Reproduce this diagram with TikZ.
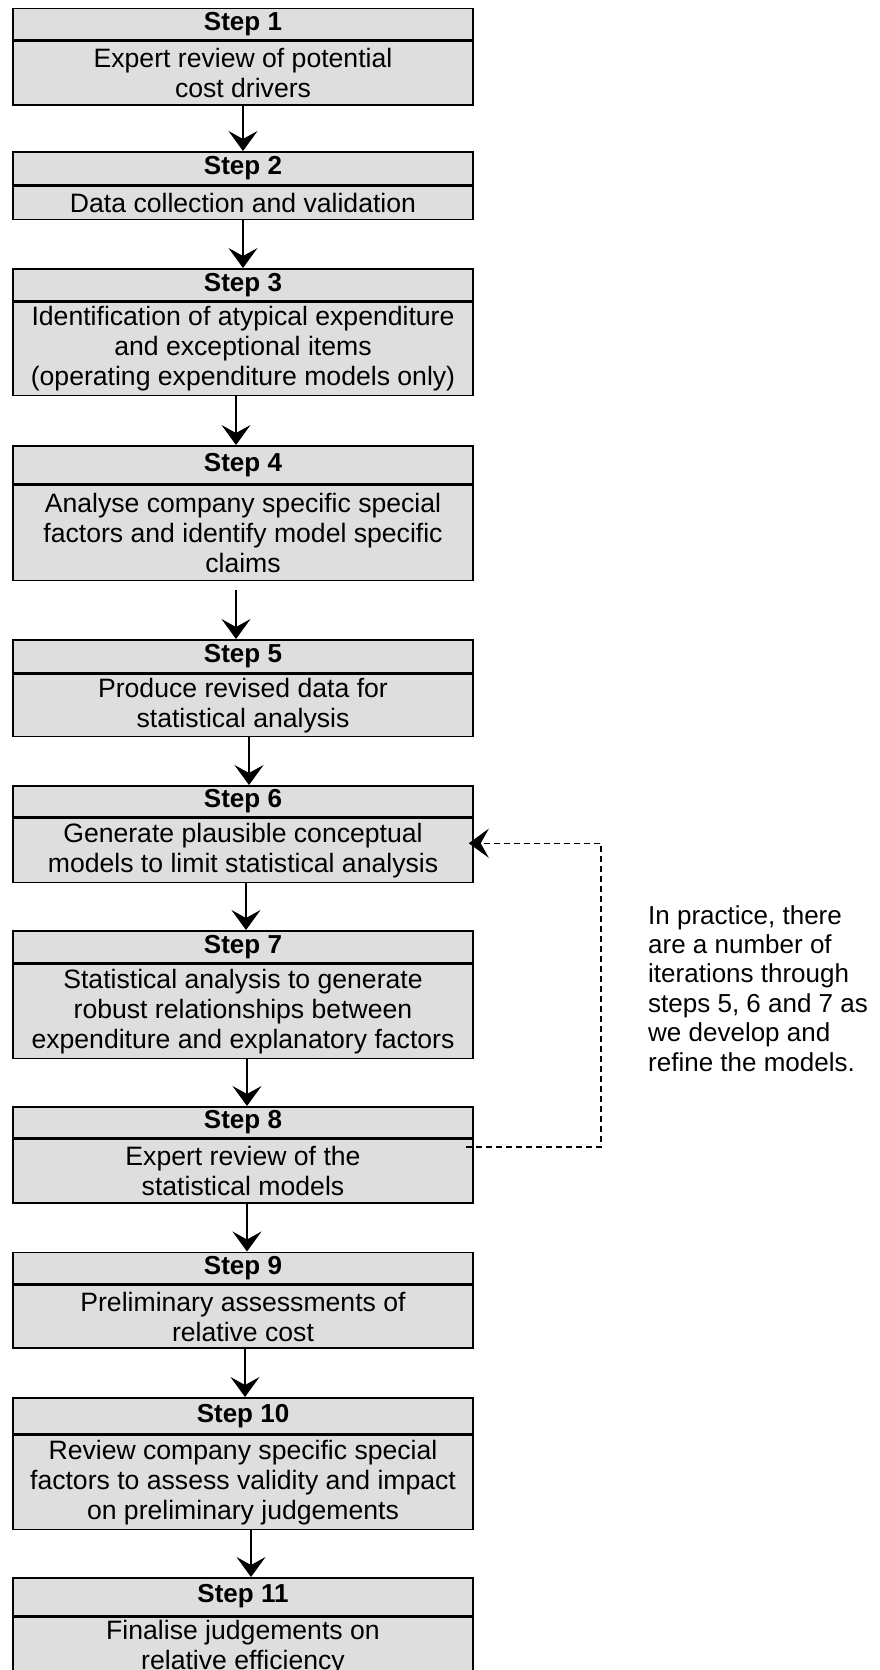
\documentclass[tikz,border=0pt]{standalone}
\usepackage{fontspec}
\setmainfont{Liberation Sans}
\usetikzlibrary{arrows.meta}
\definecolor{boxgray}{RGB}{222,222,222}
\tikzset{
  boxbase/.style={draw=black, line width=1.5pt, fill=boxgray, minimum width=460pt,
    inner sep=0pt, anchor=north, align=center},
  hdr/.style={boxbase, font=\fontsize{26}{30}\selectfont\bfseries},
  bdy/.style={boxbase, font=\fontsize{26.6}{30}\selectfont},
  flow/.style={-{Stealth[length=20pt,width=29pt,inset=8pt]}, line width=1.3pt},
  loopline/.style={-{Stealth[length=20pt,width=29pt,inset=8pt]}, line width=1.5pt,
    dash pattern=on 6pt off 4pt},
  note/.style={anchor=north west, align=left, inner sep=0pt,
    font=\fontsize{26}{29.4}\selectfont}
}
\begin{document}
\begin{tikzpicture}[x=1pt,y=-1pt]
\useasboundingbox (0,0) rectangle (880,1670);
\clip (0,0) rectangle (880,1670);
\fill[white] (0,0) rectangle (880,1670);

\node[hdr, minimum height=31.5pt] (h1) at (243,8) {Step 1};
\node[bdy, minimum height=63pt] (b1) at (h1.south) {Expert review of potential\\cost drivers};

\node[hdr, minimum height=33pt] (h2) at (243,151) {Step 2};
\node[bdy, minimum height=33pt] (b2) at (h2.south) {Data collection and validation};

\node[hdr, minimum height=32pt] (h3) at (243,268) {Step 3};
\node[bdy, minimum height=93pt] (b3) at (h3.south) {Identification of atypical expenditure\\and exceptional items\\(operating expenditure models only)};

\node[hdr, minimum height=38pt] (h4) at (243,445) {Step 4};
\node[bdy, minimum height=95pt] (b4) at (h4.south) {Analyse company specific special\\factors and identify model specific\\claims};

\node[hdr, minimum height=33pt] (h5) at (243,639) {Step 5};
\node[bdy, minimum height=62pt] (b5) at (h5.south) {Produce revised data for\\statistical analysis};

\node[hdr, minimum height=31pt] (h6) at (243,785) {Step 6};
\node[bdy, minimum height=64pt] (b6) at (h6.south) {Generate plausible conceptual\\models to limit statistical analysis};

\node[hdr, minimum height=32pt] (h7) at (243,930) {Step 7};
\node[bdy, minimum height=94pt] (b7) at (h7.south) {Statistical analysis to generate\\robust relationships between\\expenditure and explanatory factors};

\node[hdr, minimum height=31pt] (h8) at (243,1106) {Step 8};
\node[bdy, minimum height=63.5pt] (b8) at (h8.south) {Expert review of the\\statistical models};

\node[hdr, minimum height=31.5pt] (h9) at (243,1251.5) {Step 9};
\node[bdy, minimum height=62.5pt] (b9) at (h9.south) {Preliminary assessments of\\relative cost};

\node[hdr, minimum height=36pt] (h10) at (243,1397) {Step 10};
\node[bdy, minimum height=94pt] (b10) at (h10.south) {Review company specific special\\factors to assess validity and impact\\on preliminary judgements};

\node[hdr, minimum height=37.5pt] (h11) at (243,1577) {Step 11};
\node[bdy, minimum height=62pt] (b11) at (h11.south) {Finalise judgements on\\relative efficiency};

\draw[flow] (b1.south) -- (h2.north);
\draw[flow] (b2.south) -- (h3.north);
\draw[flow] ([xshift=-7pt]b3.south) -- ([xshift=-7pt]h4.north);
\draw[flow] ([xshift=-7pt,yshift=-9pt]b4.south) -- ([xshift=-7pt]h5.north);
\draw[flow] ([xshift=6pt]b5.south) -- ([xshift=6pt]h6.north);
\draw[flow] ([xshift=3pt]b6.south) -- ([xshift=3pt]h7.north);
\draw[flow] ([xshift=4pt]b7.south) -- ([xshift=4pt]h8.north);
\draw[flow] ([xshift=4pt]b8.south) -- ([xshift=4pt]h9.north);
\draw[flow] ([xshift=2pt]b9.south) -- ([xshift=2pt]h10.north);
\draw[flow] ([xshift=8pt]b10.south) -- ([xshift=8pt]h11.north);

\coordinate (fb) at (466,1147);
\coordinate (cr) at (601,1147);
\draw[loopline] (fb) -- (cr) |- ([xshift=-5pt,yshift=7pt]b6.east);

\node[note] (n1) at (648,905) {In practice, there\\are a number of\\iterations through\\steps 5, 6 and 7 as\\we develop and\\refine the models.};
\end{tikzpicture}
\end{document}
